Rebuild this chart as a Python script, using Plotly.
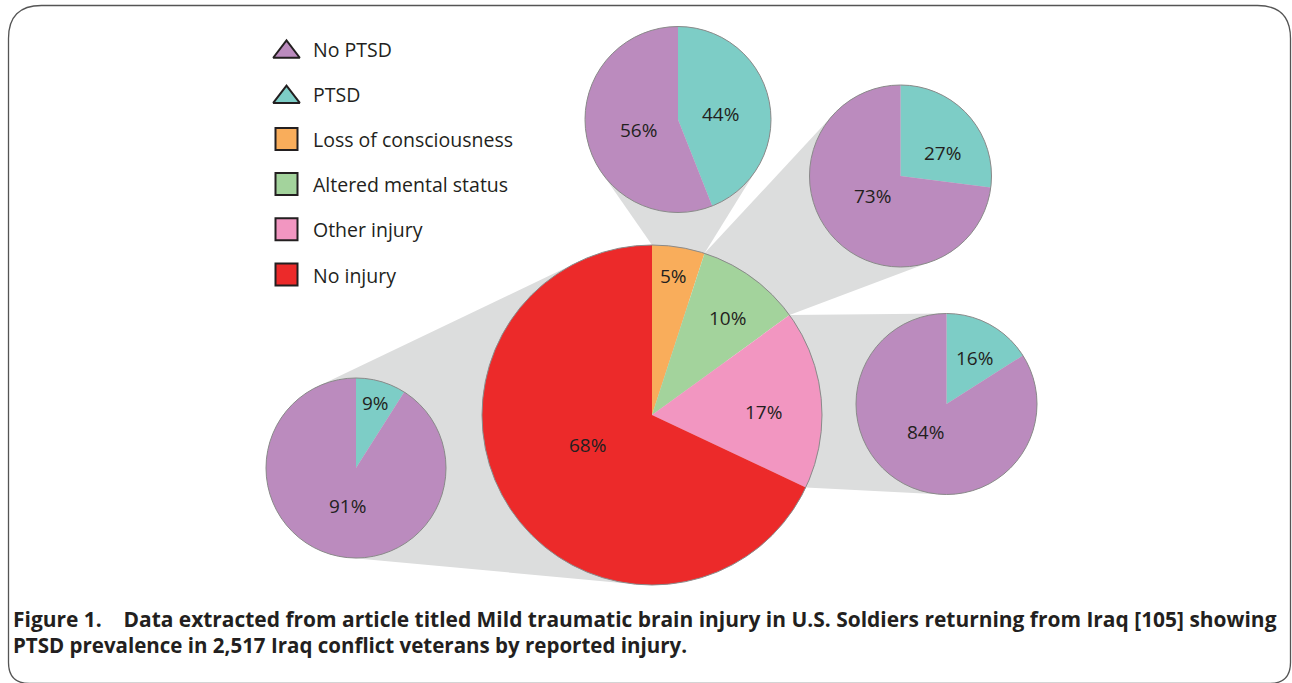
import numpy as np
import plotly.graph_objects as go

W, H = 1292, 683

# ---------------- data ----------------
injury_labels = ["Loss of consciousness", "Altered mental status", "Other injury", "No injury"]
injury_share = [5, 10, 17, 68]            # % of 2,517 veterans
ptsd_labels = ["PTSD", "No PTSD"]
ptsd_share = [44, 27, 16, 9]              # % with PTSD in each injury group
no_ptsd_share = [56, 73, 84, 91]          # % without PTSD in each injury group
legend_labels = ["No PTSD", "PTSD"] + injury_labels

caption_line1 = ("Figure 1.\u00a0\u00a0\u00a0 Data extracted from article titled Mild traumatic brain injury "
                 "in U.S. Soldiers returning from Iraq [105] showing")
caption_line2 = "PTSD prevalence in 2,517 Iraq conflict veterans by reported injury."

# ---------------- style / layout ----------------
injury_colors = ["#f9ad5b", "#a3d39c", "#f296c1", "#ec2a2a"]
ptsd_color, no_ptsd_color = "#7dcdc6", "#bb8bbe"
connector_color = "#dcdddd"
outline_color = "#8a8a8a"
text_color = "#231f20"
FONT = "Open Sans"

main_geom = (652, 415, 170)                       # cx, cy, r (px)
small_geom = [(678, 119.5, 93), (900.5, 176, 91), (946.5, 404, 90.5), (356, 468, 90)]

# label offsets in units of the pie radius (dx, dy)
main_label_off = [(0.124, -0.818), (0.447, -0.571), (0.653, -0.018), (-0.382, 0.176)]
small_label_off = [
    [(0.452, -0.059), (-0.430, 0.113)],
    [(0.456, -0.253), (-0.313, 0.220)],
    [(0.304, -0.508), (-0.227, 0.309)],
    [(0.222, -0.722), (-0.089, 0.422)],
]


def dom(cx, cy, r):
    return dict(x=[(cx - r) / W, (cx + r) / W], y=[1 - (cy + r) / H, 1 - (cy - r) / H])


def pt(cx, cy, r, deg):
    a = np.radians(deg)
    return (cx + r * np.sin(a), cy - r * np.cos(a))


def hull(points):
    pts = sorted(set((round(x, 3), round(y, 3)) for x, y in points))

    def cross(o, a, b):
        return (a[0] - o[0]) * (b[1] - o[1]) - (a[1] - o[1]) * (b[0] - o[0])

    lower, upper = [], []
    for p in pts:
        while len(lower) >= 2 and cross(lower[-2], lower[-1], p) <= 0:
            lower.pop()
        lower.append(p)
    for p in reversed(pts):
        while len(upper) >= 2 and cross(upper[-2], upper[-1], p) <= 0:
            upper.pop()
        upper.append(p)
    return lower[:-1] + upper[:-1]


fig = go.Figure()
shapes = []
annotations = []

# connectors (hull of the main-pie slice arc and the breakout pie)
cum = np.concatenate([[0], np.cumsum(injury_share)]) * 360.0 / sum(injury_share)
mcx, mcy, mr = main_geom
for i, (scx, scy, sr) in enumerate(small_geom):
    arc = [pt(mcx, mcy, mr, d) for d in np.linspace(cum[i], cum[i + 1], 60)]
    circ = [pt(scx, scy, sr, d) for d in np.linspace(0, 360, 180, endpoint=False)]
    h = hull(arc + circ)
    path = "M " + " L ".join(f"{x:.2f},{y:.2f}" for x, y in h) + " Z"
    shapes.append(dict(type="path", path=path, xref="x", yref="y", layer="below",
                       fillcolor=connector_color, line=dict(width=0)))

# main pie
fig.add_trace(go.Pie(labels=injury_labels, values=injury_share, sort=False, direction="clockwise",
                     rotation=0, domain=dom(*main_geom), textinfo="none", showlegend=False,
                     marker=dict(colors=injury_colors, line=dict(width=0)), hoverinfo="label+percent"))
for i, v in enumerate(injury_share):
    dx, dy = main_label_off[i]
    annotations.append(dict(x=mcx + dx * mr, y=mcy + dy * mr, xref="x", yref="y", text=f"{v}%",
                            showarrow=False, font=dict(family=FONT, size=19, color=text_color)))

# breakout pies
for i, (scx, scy, sr) in enumerate(small_geom):
    vals = [ptsd_share[i], no_ptsd_share[i]]
    fig.add_trace(go.Pie(labels=ptsd_labels, values=vals, sort=False, direction="clockwise", rotation=0,
                         domain=dom(scx, scy, sr), textinfo="none", showlegend=False,
                         marker=dict(colors=[ptsd_color, no_ptsd_color], line=dict(width=0)),
                         hoverinfo="label+percent", name=injury_labels[i]))
    for j, v in enumerate(vals):
        dx, dy = small_label_off[i][j]
        annotations.append(dict(x=scx + dx * sr, y=scy + dy * sr, xref="x", yref="y", text=f"{v}%",
                                showarrow=False, font=dict(family=FONT, size=19, color=text_color)))

# pie outlines
for cx, cy, r in [main_geom] + small_geom:
    shapes.append(dict(type="circle", xref="x", yref="y", x0=cx - r, x1=cx + r, y0=cy - r, y1=cy + r,
                       layer="above", line=dict(color=outline_color, width=1)))

# legend (custom, drawn on pixel axes)
leg_x, leg_text_x = 286.5, 311
leg_rows = [49.0 + k * 45.2 for k in range(len(legend_labels))]
leg_symbols = ["triangle-up", "triangle-up"] + ["square"] * 4
leg_colors = [no_ptsd_color, ptsd_color] + injury_colors
leg_marker_y = [y + (3.0 if s == "triangle-up" else -0.5) for y, s in zip(leg_rows, leg_symbols)]
leg_sizes = [23 if s == "triangle-up" else 22 for s in leg_symbols]
fig.add_trace(go.Scatter(x=[leg_x] * len(legend_labels), y=leg_marker_y, mode="markers",
                         marker=dict(symbol=leg_symbols, size=leg_sizes, color=leg_colors, opacity=1,
                                     line=dict(color=text_color, width=2)),
                         hoverinfo="skip", showlegend=False))
for lab, y in zip(legend_labels, leg_rows):
    annotations.append(dict(x=leg_text_x, y=y, xref="x", yref="y", text=lab, showarrow=False,
                            xanchor="left", yanchor="middle",
                            font=dict(family=FONT, size=19.5, color=text_color)))

# caption
for txt, y, fs in [(caption_line1, 619, 20.95), (caption_line2, 645, 20.5)]:
    annotations.append(dict(x=11, y=y, xref="x", yref="y", text=f"<b>{txt}</b>", showarrow=False,
                            xanchor="left", yanchor="middle",
                            font=dict(family=FONT, size=fs, color=text_color)))

# rounded frame
L, T, R, B = 8.5, 5.5, 1290.5, 683.5
rt, rb = 33, 21
frame = (f"M {L+rt},{T} L {R-rt},{T} Q {R},{T} {R},{T+rt} L {R},{B-rb} Q {R},{B} {R-rb},{B} "
         f"L {L+rb},{B} Q {L},{B} {L},{B-rb} L {L},{T+rt} Q {L},{T} {L+rt},{T} Z")
shapes.append(dict(type="path", path=frame, xref="x", yref="y", layer="above",
                   line=dict(color="#555555", width=1.3)))

fig.update_layout(
    width=W, height=H, margin=dict(l=0, r=0, t=0, b=0),
    paper_bgcolor="white", plot_bgcolor="white",
    xaxis=dict(range=[0, W], visible=False, fixedrange=True),
    yaxis=dict(range=[H, 0], visible=False, fixedrange=True),
    shapes=shapes, annotations=annotations, showlegend=False,
)

fig.write_html("out.html", config={"displayModeBar": False},
               post_script="document.body.style.margin='0';document.body.style.overflow='hidden';")
